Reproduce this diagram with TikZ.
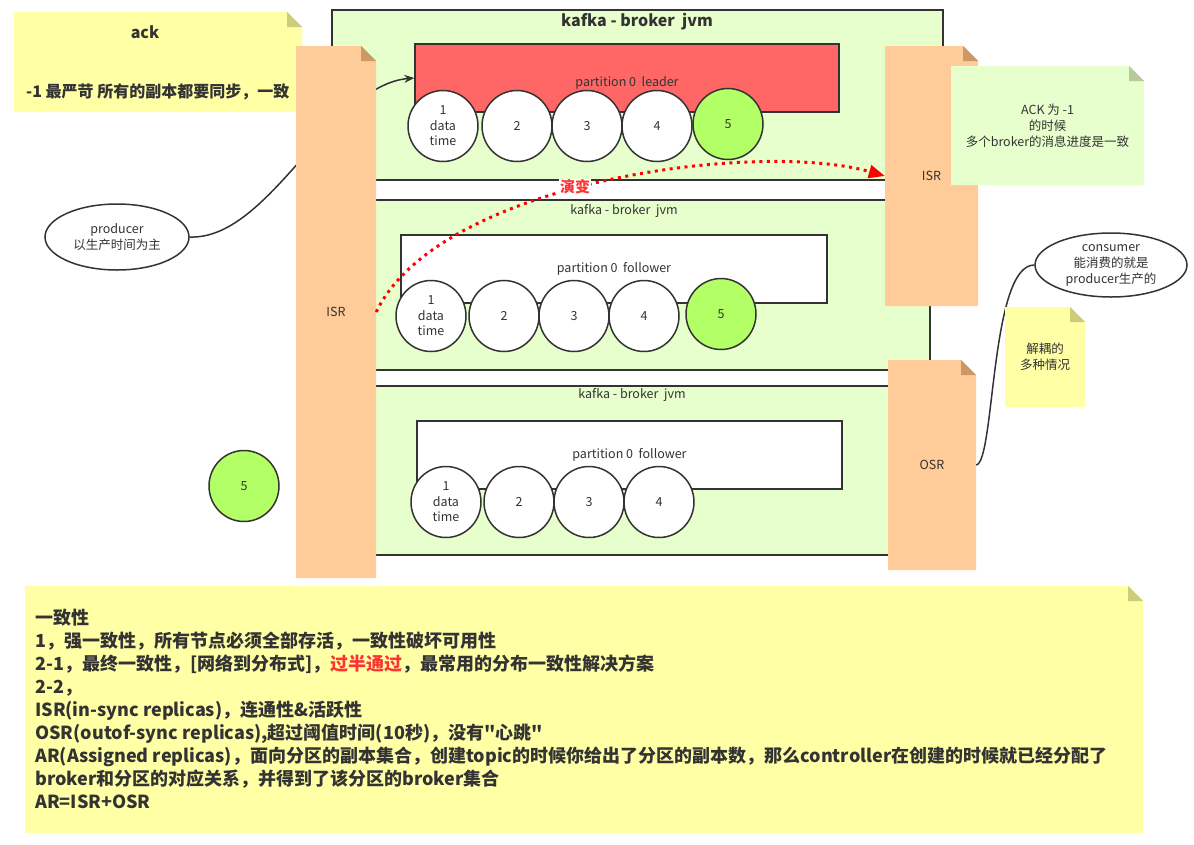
\documentclass[tikz,border=0pt]{standalone}
\usepackage{fontspec}
\setmainfont{Noto Sans CJK SC}[Ligatures=TeXOff]
\usetikzlibrary{arrows.meta,shapes.geometric}
\definecolor{txt}{HTML}{333333}
\definecolor{brd}{HTML}{333333}
\definecolor{lgreen}{HTML}{E6FFCC}
\definecolor{lgreenf}{HTML}{B5CC9A}
\definecolor{yel}{HTML}{FFFFA6}
\definecolor{yelf}{HTML}{CCCC7A}
\definecolor{ora}{HTML}{FFCC99}
\definecolor{oraf}{HTML}{CC9966}
\definecolor{redp}{HTML}{FF6666}
\definecolor{grn}{HTML}{B3FF66}
\definecolor{redt}{HTML}{FF3333}
\tikzset{
  note/.style 2 args={inner sep=0pt, text=txt, path picture={
    \fill[#1] (path picture bounding box.south west) -- (path picture bounding box.north west)
      -- ([xshift=-15pt]path picture bounding box.north east)
      -- ([yshift=-15pt]path picture bounding box.north east)
      -- (path picture bounding box.south east) -- cycle;
    \fill[#2] ([xshift=-15pt]path picture bounding box.north east)
      -- ([yshift=-15pt]path picture bounding box.north east)
      -- ([xshift=-15pt,yshift=-15pt]path picture bounding box.north east) -- cycle;
  }},
  broker/.style={draw=brd, line width=1.5pt, fill=lgreen, inner sep=0pt},
  part/.style={draw=brd, line width=1.5pt, inner sep=0pt, text=txt, font=\fontsize{12.5}{15}\selectfont},
  ball/.style={ellipse, draw=brd, line width=1.5pt, fill=white, minimum width=70pt, minimum height=71pt,
    inner sep=0pt, text=txt, align=center, font=\fontsize{12.5}{15.5}\selectfont},
  lbl/.style={text=txt, inner sep=0pt, align=center, font=\fontsize{12.5}{16}\selectfont},
  wire/.style={draw=brd, line width=1.5pt},
}
\begin{document}
\begin{tikzpicture}[x=1pt,y=-1pt]
\useasboundingbox (0,0) rectangle (1194,844);
% ack note
\node[note={yel}{yelf}, minimum width=288pt, minimum height=100pt] (acknote) at (158,62) {};
\node[text=txt, inner sep=0pt, font=\bfseries\fontsize{16}{18}\selectfont] (acktitle) at (145,32) {ack};
\node[text=txt, inner sep=0pt, anchor=west, font=\bfseries\fontsize{16}{18}\selectfont] (acktext) at (26,92) {-1 最严苛 所有的副本都要同步，一致};

% brokers
\node[broker, minimum width=611pt, minimum height=170pt] (b1) at (637.5,95) {};
\node[text=txt, inner sep=0pt, font=\bfseries\fontsize{16}{18}\selectfont] (b1t) at (637,22) {kafka - broker\ \ jvm};
\node[broker, minimum width=590pt, minimum height=170pt] (b2) at (635,285) {};
\node[lbl] (b2t) at (624,211) {kafka - broker\ \ jvm};
\node[broker, minimum width=590pt, minimum height=169pt] (b3) at (635,470.5) {};
\node[lbl] (b3t) at (632,395) {kafka - broker\ \ jvm};

% partitions
\node[part, fill=redp, minimum width=424pt, minimum height=68pt, text height=16pt, text depth=0pt] (lead) at (627,78) {partition 0\ \ leader};
\node[part, fill=white, minimum width=426pt, minimum height=68pt] (f1) at (614,269) {partition 0\ \ follower};
\node[part, fill=white, minimum width=425pt, minimum height=68pt] (f2) at (629.5,455) {partition 0\ \ follower};

% leader balls
\node[ball] (l1) at (443,126) {1\\data\\time};
\node[ball] (l2) at (517,126) {2};
\node[ball] (l3) at (587,126) {3};
\node[ball] (l4) at (657,126) {4};
\node[ball, fill=grn] (l5) at (728,124) {5};
% follower 1 balls
\node[ball] (m1) at (431,316) {1\\data\\time};
\node[ball] (m2) at (504,316) {2};
\node[ball] (m3) at (574,316) {3};
\node[ball] (m4) at (644,316) {4};
\node[ball, fill=grn] (m5) at (721,314) {5};
% follower 2 balls
\node[ball] (n1) at (446,502) {1\\data\\time};
\node[ball] (n2) at (519,502) {2};
\node[ball] (n3) at (589,502) {3};
\node[ball] (n4) at (659,502) {4};
% lone ball
\node[ball, fill=grn] (lone) at (244,486) {5};

% producer
\node[ellipse, draw=brd, line width=1.5pt, fill=white, minimum width=144pt, minimum height=66pt, inner sep=0pt,
  text=txt, align=center, font=\fontsize{12.5}{16}\selectfont] (prod) at (117,237) {producer\\以生产时间为主};
\draw[wire, -{Stealth[length=10pt,width=8pt]}] (prod.east) .. controls (270,240) and (330,85) .. (lead.west);

% consumer
\node[ellipse, draw=brd, line width=1.5pt, fill=white, minimum width=152pt, minimum height=64pt, inner sep=0pt,
  text=txt, align=center, font=\fontsize{12.5}{16}\selectfont] (cons) at (1111,265) {consumer\\能消费的就是\\producer生产的};

% ISR / OSR notes
\node[note={ora}{oraf}, minimum width=80pt, minimum height=532pt, font=\fontsize{12.5}{15}\selectfont] (isrL) at (336,312) {ISR};
\node[note={ora}{oraf}, minimum width=93pt, minimum height=260pt, font=\fontsize{12.5}{15}\selectfont] (isrR) at (931.5,176) {ISR};
\node[note={ora}{oraf}, minimum width=88pt, minimum height=210pt, font=\fontsize{12.5}{15}\selectfont] (osr) at (932,465) {OSR};
\draw[wire] (cons.west) .. controls (990,265) and (995,462) .. (osr.east);

% ACK note
\node[note={lgreen}{lgreenf}, minimum width=193pt, minimum height=119pt, align=center,
  font=\fontsize{12.5}{16}\selectfont] (acknote2) at (1047.5,125.5) {ACK 为 -1\\的时候\\多个broker的消息进度是一致};
% small yellow note
\node[note={yel}{yelf}, minimum width=80pt, minimum height=100pt, align=center,
  font=\fontsize{12.5}{16}\selectfont] (decouple) at (1045,357) {解耦的\\多种情况};

% evolution arrow
\draw[red, line width=3pt, dash pattern=on 3pt off 4.5pt, -{Triangle[length=16pt,width=13pt]}]
  (isrL.east) .. controls (440,180) and (760,140) .. (isrR.west);
\node[fill=white, text=redt, inner sep=1pt, font=\bfseries\fontsize{15}{17}\selectfont] (evo) at (575,187) {演变};

% bottom note
\node[note={yel}{yelf}, minimum width=1118pt, minimum height=247pt] (bottom) at (584,709.5) {};
\node[anchor=north west, inner sep=0pt, text=txt, align=left, font=\bfseries\fontsize{18}{23}\selectfont] (btext) at (35,609) {一致性\\
1，强一致性，所有节点必须全部存活，一致性破坏可用性\\
2-1，最终一致性，[网络到分布式]，\textcolor{redt}{过半通过}，最常用的分布一致性解决方案\\
2-2，\\
ISR(in-sync replicas)，连通性\&活跃性\\
OSR(outof-sync replicas),超过阈值时间(10秒)，没有"心跳"\\
AR(Assigned replicas)，面向分区的副本集合，创建topic的时候你给出了分区的副本数，那么controller在创建的时候就已经分配了\\
broker和分区的对应关系，并得到了该分区的broker集合\\
AR=ISR+OSR};
\end{tikzpicture}
\end{document}
